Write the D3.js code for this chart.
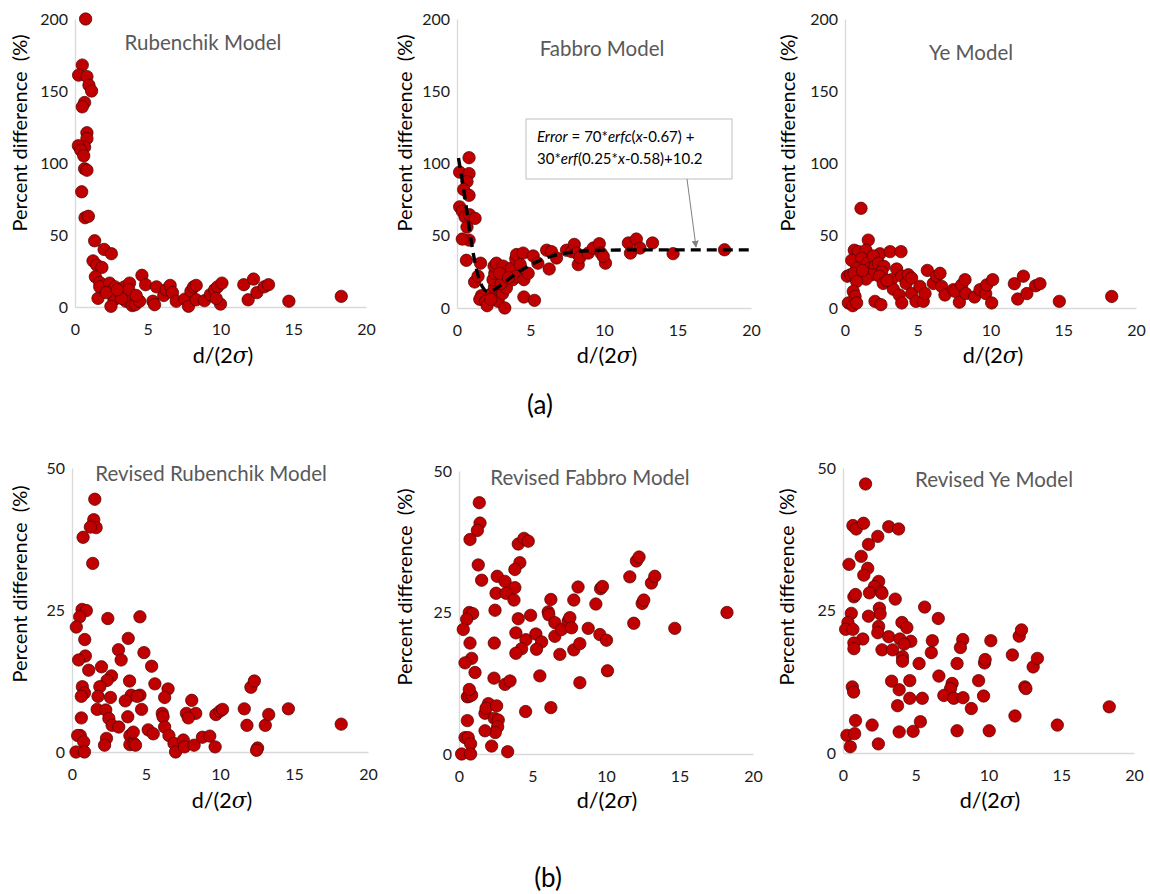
<!DOCTYPE html>
<html>
<head>
<meta charset="utf-8">
<script src="https://cdn.jsdelivr.net/npm/d3@7"></script>
<style>
  html, body { margin: 0; padding: 0; background: #fff; }
  svg { display: block; }
  text { font-family: Lato, "Open Sans", "DejaVu Sans", sans-serif; }
</style>
</head>
<body>
<svg id="chart" width="1150" height="894"></svg>
<script>
// ---------------- DATA ----------------
const xTicks = [0, 5, 10, 15, 20];
const yTicksTop = [0, 50, 100, 150, 200];
const yTicksBottom = [0, 25, 50];

const titles = ["Rubenchik Model", "Fabbro Model", "Ye Model",
                "Revised Rubenchik Model", "Revised Fabbro Model", "Revised Ye Model"];

const rubenchik = [
  [0.73,200],[0.5,168],[0.25,161],[0.82,160],[0.96,154],[1.14,150],[0.66,142],[0.5,139],
  [0.82,121],[0.82,117],[0.66,111],[0.23,112],[0.39,109],[0.6,105],[0.66,96],[0.82,95],
  [0.46,80],[0.69,62],[0.92,63],[1.35,46],[2.0,40],[2.5,37],[1.24,32],[1.5,29],[1.85,27.5],
  [1.4,21],[1.7,17],[1.58,6],[1.7,14],[2.38,16.6],[2.6,10],[2.68,5],[2.47,0.5],[2.75,14],
  [2.15,10],[3.07,10],[3.4,14],[3.75,16.6],[3.7,12],[3.5,4],[3.94,1],[4.14,1.6],[4.44,4],
  [4.6,22],[4.85,15.5],[5.35,4],[5.47,1.6],[5.6,14],[6.1,8],[6.27,12],[6.54,15],[6.7,10],
  [6.96,4],[7.55,5.5],[7.8,0.5],[7.97,11],[8.15,14],[8.33,15],[8.33,5],[8.9,4.4],[9.3,8.6],
  [9.6,12],[9.8,14],[10.1,16.6],[10.0,2],[9.7,6],[11.6,15.5],[11.9,5],[12.27,19.4],[12.5,10],
  [13.0,14],[13.3,15.5],[14.7,4],[18.3,7.4],[3.2,6],[2.9,12],[4.2,8]
];

const fabbro = [
  [0.82,104],[0.18,94],[0.82,93],[0.68,87.5],[0.45,82],[0.82,78],[0.18,70],[0.36,67],
  [0.55,63],[0.86,64.5],[1.23,62],[0.68,56],[0.82,47],[0.36,47.7],[0.64,33],[1.6,31],
  [1.2,18],[1.43,22],[1.66,8.5],[1.55,6],[1.95,4.6],[2.05,1.6],[2.36,10],[2.55,14.5],
  [2.45,19.6],[2.57,24],[2.52,29],[2.68,31],[2.8,4.6],[2.3,6],[3.25,0],[3.1,10],[3.36,14],
  [3.14,29],[3.7,27.6],[3.8,19.6],[4.05,22],[4.0,34],[4.05,37],[4.5,38],[4.55,19.6],
  [4.84,24],[4.55,7.6],[5.27,5.3],[5.18,36],[5.5,31],[6.1,40],[6.27,27],[6.43,39],[6.77,34.6],
  [7.45,40],[7.8,39],[7.98,44],[8.14,38],[8.25,30],[8.36,35],[8.93,38],[9.27,41.5],[9.68,44.5],
  [9.8,38],[10.1,31],[9.95,35.7],[11.66,45],[11.8,38],[12.2,47.7],[12.45,41.5],[13.3,45],
  [14.7,37.6],[18.2,40.3],[3.0,17],[2.9,24],[3.5,21],[4.3,30]
];
const fitX = [0.1, 0.5, 0.75, 1, 1.25, 1.5, 1.75, 2, 2.25, 2.5, 3, 4, 5, 6, 7, 8, 10, 12, 15, 20];
const fitY = [103.8, 79.1, 61.3, 44.3, 30.2, 20.2, 14.3, 11.7, 11.4, 12.4, 16.0, 23.6, 29.9, 34.4, 37.3, 38.9, 40.0, 40.2, 40.2, 40.2];

const ye = [
  [1.1,69],[1.6,47],[0.64,40],[0.92,39],[1.44,40],[2.4,37.5],[3.1,39],[3.85,39],[0.46,33],
  [1.15,34.5],[1.53,31],[1.95,36],[0.8,27.6],[1.72,27.6],[2.06,28.8],[2.3,31],[2.68,28.8],
  [2.52,25],[1.83,23],[1.44,20],[0.16,22],[0.39,23],[0.62,24],[0.8,18.4],[0.57,11.5],[0.69,8],
  [0.23,3.5],[0.53,1.6],[0.8,3.5],[2.06,4.6],[2.47,2.3],[2.36,22],[2.63,17],[3.2,19.6],
  [3.55,27],[3.32,13],[3.73,9],[3.9,3.5],[3.9,22],[4.2,17],[4.35,23],[4.58,20.7],[4.58,10],
  [4.88,4.6],[5.15,15],[5.38,4.6],[5.5,10],[5.66,26],[6.07,17],[6.3,22],[6.53,24],[6.64,15],
  [6.87,9],[7.45,12.7],[7.56,11.5],[7.86,4],[8.02,16],[8.25,19.6],[8.3,10],[8.9,7.6],
  [9.28,12.7],[9.67,10],[9.74,16],[10.15,19.6],[10.08,3.5],[11.64,16.8],[11.87,6.2],
  [12.26,22],[12.5,10],[13.1,15.4],[13.4,16.8],[14.73,4.6],[18.33,8],[1.2,26],[2.9,19]
];

const revRubenchik = [
  [1.54,44.5],[1.47,40.9],[1.63,39.5],[1.24,39.6],[0.75,37.8],[1.4,33.2],[0.68,25.1],[0.97,24.9],
  [0.52,23.8],[0.29,22],[2.42,23.5],[4.59,23.8],[0.86,19.8],[3.8,20],[3.14,18],[4.86,17.5],
  [0.9,16.9],[0.45,16.2],[3.32,16.2],[5.38,15.1],[1.13,14.4],[1.99,15],[2.67,13.4],[2.37,12.6],
  [3.89,12.5],[5.6,12],[1.88,11.5],[0.7,11.5],[6.49,11.1],[0.84,10.4],[0.63,9.8],[1.76,9.8],
  [2.6,9.6],[4.0,10],[4.59,10],[4.4,9.8],[6.26,9.6],[8.09,9.1],[3.6,9],[1.7,7.5],[2.28,7.4],
  [4.7,7.5],[2.49,5.9],[3.77,6.2],[0.63,6],[6.1,6.8],[6.15,6.2],[7.73,6.8],[8.36,6.8],[7.86,6],
  [9.72,6.6],[10.0,7.2],[10.17,7.5],[11.64,7.6],[11.82,4.7],[12.09,11.4],[12.32,12.5],[13.06,4.7],
  [13.29,6.6],[14.62,7.6],[18.19,4.9],[2.71,4.7],[3.16,4.4],[5.15,3.9],[5.49,3.2],[6.26,4.4],
  [6.55,2.9],[6.89,1.5],[7.0,0],[7.52,2.1],[7.6,0.9],[8.25,1.2],[8.81,2.6],[9.31,2.8],[9.67,0.9],
  [12.54,0.7],[12.47,0.3],[0.56,2.9],[0.38,2.9],[0.79,1.8],[0.27,0],[0.84,0],[2.33,2.4],[2.2,1.2],
  [3.91,2.9],[3.91,1.3],[4.18,1.5],[4.29,1.2],[4.14,3.5]
];

const revFabbro = [
  [1.38,44.4],[1.43,40.8],[1.25,39.5],[0.75,37.9],[1.31,33.4],[1.54,30.7],[4.03,37.1],[4.42,38.1],
  [4.71,37.6],[4.14,33.8],[3.8,32.6],[2.6,31.4],[3.13,30.5],[3.8,29.4],[2.52,28.4],[3.2,28.4],
  [3.74,27.2],[2.45,25.4],[4.87,24.5],[0.7,25],[0.93,24.8],[0.52,23.8],[0.29,22],[4.03,23.9],
  [3.87,21.4],[2.4,19.6],[0.75,19.6],[4.55,20.2],[5.23,21.2],[5.62,19.8],[5.27,18.5],[4.26,18.6],
  [3.87,17.8],[0.86,16.9],[0.41,16.1],[1.09,14.4],[2.38,13.4],[3.13,12.3],[3.47,12.9],[5.5,13.8],
  [6.25,27.3],[6.07,25.1],[6.11,24.6],[6.52,23.2],[6.52,20.8],[6.86,17.6],[6.98,22],[7.43,23.5],
  [7.54,24.1],[7.66,22.3],[7.81,27.2],[8.1,29.5],[7.81,18.4],[8.22,19.5],[8.22,12.6],[8.79,22.2],
  [9.31,26.5],[9.63,29.2],[9.76,29.6],[9.58,21.1],[10.03,20.1],[10.1,14.7],[11.62,31.3],[12.07,34.1],
  [12.25,34.8],[11.89,23.1],[12.46,26.6],[12.57,27.2],[13.09,30.2],[13.32,31.4],[14.68,22.2],
  [18.23,25],[6.25,8.2],[4.53,7.5],[0.57,10.1],[0.7,10.2],[0.86,10.4],[0.7,11.4],[0.57,5.9],
  [0.41,2.9],[0.63,2.9],[0.79,1.8],[0.18,0],[0.79,0],[1.77,7.2],[2.0,8.9],[1.84,8.1],[2.56,8.5],
  [2.4,6.3],[2.67,6],[2.63,4.8],[2.47,3.8],[1.77,4.1],[2.22,1.4],[3.31,0.4]
];

const revYe = [
  [1.55,47.2],[0.68,39.9],[0.91,39.3],[1.41,40.3],[3.14,39.7],[3.82,39.3],[2.39,38],[1.75,36.6],
  [1.25,34.5],[0.41,33.1],[1.7,32.4],[1.43,31.2],[2.45,30.1],[2.16,29.2],[1.82,28.1],[2.61,28.3],
  [2.68,28],[0.75,27.4],[0.86,27.8],[3.59,27],[5.61,25.6],[6.55,23.6],[2.5,25.4],[2.55,24.4],
  [0.57,24.5],[1.75,24],[0.34,22.9],[0.18,21.7],[0.68,21.7],[2.45,22.2],[2.39,21.1],[4.05,22.9],
  [4.39,22],[1.36,20],[3.14,20.4],[3.91,20],[4.66,19.6],[4.2,19.1],[0.75,19.3],[0.75,18.3],
  [2.68,18.1],[3.41,18.1],[4.09,16.9],[4.09,16.1],[5.23,15.7],[6.07,17.6],[6.14,19.7],[8.23,19.9],
  [8.07,18.5],[10.16,19.7],[7.84,15.7],[6.59,13.5],[7.5,12.2],[7.39,11.3],[6.93,10.1],[7.61,9.6],
  [8.25,9.7],[9.32,12.7],[9.66,10],[9.73,15.8],[9.77,16.4],[8.82,7.8],[11.64,17.2],[12.11,20.5],
  [12.27,21.6],[13.07,15.1],[13.36,16.6],[11.82,6.5],[12.5,11.6],[12.57,11.3],[14.73,4.9],[18.3,8.1],
  [3.34,12.6],[3.86,11.1],[4.59,12.7],[4.59,9.6],[5.45,9.6],[3.75,8.3],[5.32,5.5],[4.82,3.8],
  [3.86,3.7],[7.84,3.9],[10.05,3.9],[0.64,11.6],[0.73,10.7],[0.86,5.7],[2.0,4.9],[0.27,3.1],
  [0.8,3.4],[0.5,1.1],[2.43,1.6]
];

// ---------------- LAYOUT ----------------
const panels = [
  {data: rubenchik,    title: titles[0], xr:[75,366],  yr:[307,19],  ymax:200, yt:yTicksTop,    tx:203, ty:50,  lx:20,  ly:133, xl:223, xly:363},
  {data: fabbro,       title: titles[1], xr:[457,751], yr:[308,19],  ymax:200, yt:yTicksTop,    tx:602, ty:56,  lx:405, ly:133, xl:607, xly:363},
  {data: ye,           title: titles[2], xr:[845,1136],yr:[308,19],  ymax:200, yt:yTicksTop,    tx:971, ty:60,  lx:788, ly:133, xl:993, xly:363},
  {data: revRubenchik, title: titles[3], xr:[72,368],  yr:[752,468], ymax:50,  yt:yTicksBottom, tx:211, ty:481, lx:20,  ly:584, xl:222, xly:808},
  {data: revFabbro,    title: titles[4], xr:[459,753], yr:[754,471], ymax:50,  yt:yTicksBottom, tx:590, ty:485, lx:405, ly:587, xl:607, xly:808},
  {data: revYe,        title: titles[5], xr:[843,1134],yr:[753,468], ymax:50,  yt:yTicksBottom, tx:994, ty:487, lx:787, ly:587, xl:990, xly:808}
];

const svg = d3.select("#chart");
const axisGray = "#d9d9d9";
const dotFill = "#c00000";
const dotStroke = "#4a0000";

panels.forEach((p, i) => {
  const x = d3.scaleLinear().domain([0, 20]).range(p.xr);
  const y = d3.scaleLinear().domain([0, p.ymax]).range(p.yr);
  const g = svg.append("g");

  // x axis
  const gx = g.append("g").attr("transform", `translate(0,${p.yr[0]})`)
    .call(d3.axisBottom(x).tickValues(xTicks).tickSize(0).tickPadding(17).tickSizeOuter(0));
  gx.select(".domain").attr("stroke", axisGray).attr("stroke-width", 1.3);
  gx.selectAll("text").attr("font-size", 16).attr("fill", "#1a1a1a")
    .attr("font-family", "Lato, 'Open Sans', sans-serif");

  // y axis
  const gy = g.append("g").attr("transform", `translate(${p.xr[0]},0)`)
    .call(d3.axisLeft(y).tickValues(p.yt).tickSize(0).tickPadding(7).tickSizeOuter(0));
  gy.select(".domain").attr("stroke", axisGray).attr("stroke-width", 1.3);
  gy.selectAll("text").attr("font-size", 16).attr("fill", "#1a1a1a")
    .attr("font-family", "Lato, 'Open Sans', sans-serif");

  // title
  g.append("text").attr("x", p.tx).attr("y", p.ty).attr("text-anchor", "middle")
    .attr("font-size", 20.5).attr("fill", "#595959").text(p.title);

  // y label
  g.append("text")
    .attr("transform", `translate(${p.lx + 7},${p.ly}) rotate(-90)`)
    .attr("text-anchor", "middle").attr("font-size", 20).attr("fill", "#000")
    .style("white-space", "pre").text("Percent difference  (%)");

  // x label
  const xl = g.append("text").attr("x", p.xl).attr("y", p.xly).attr("text-anchor", "middle")
    .attr("font-size", 21.5).attr("fill", "#000");
  xl.append("tspan").text("d/(2");
  xl.append("tspan").attr("font-style", "italic").attr("font-family", "'DejaVu Serif', serif").text("σ");
  xl.append("tspan").text(")");

  // points
  g.append("g").selectAll("circle").data(p.data).join("circle")
    .attr("cx", d => x(d[0])).attr("cy", d => y(d[1])).attr("r", 6.2)
    .attr("fill", dotFill).attr("stroke", dotStroke).attr("stroke-width", 0.7);

  if (i === 1) {
    // fitted curve
    const line = d3.line().x(d => x(d[0])).y(d => y(d[1])).curve(d3.curveMonotoneX);
    g.append("path").datum(fitX.map((v, k) => [v, fitY[k]]))
      .attr("d", line).attr("fill", "none").attr("stroke", "#000")
      .attr("stroke-width", 3.4).attr("stroke-dasharray", "10,6");

    // annotation box
    g.append("rect").attr("x", 526).attr("y", 119).attr("width", 206).attr("height", 60)
      .attr("fill", "#fff").attr("stroke", "#bfbfbf").attr("stroke-width", 1);
    const t1 = g.append("text").attr("x", 537).attr("y", 142).attr("font-size", 15).attr("fill", "#000");
    t1.append("tspan").attr("font-style", "italic").text("Error");
    t1.append("tspan").text(" = 70*");
    t1.append("tspan").attr("font-style", "italic").text("erfc");
    t1.append("tspan").text("(");
    t1.append("tspan").attr("font-style", "italic").text("x");
    t1.append("tspan").text("-0.67) +");
    const t2 = g.append("text").attr("x", 537).attr("y", 164).attr("font-size", 15).attr("fill", "#000");
    t2.append("tspan").text("30*");
    t2.append("tspan").attr("font-style", "italic").text("erf");
    t2.append("tspan").text("(0.25*");
    t2.append("tspan").attr("font-style", "italic").text("x");
    t2.append("tspan").text("-0.58)+10.2");

    // arrow
    svg.append("defs").append("marker").attr("id", "arr").attr("viewBox", "0 0 10 10")
      .attr("refX", 9).attr("refY", 5).attr("markerWidth", 7).attr("markerHeight", 7)
      .attr("orient", "auto").append("path").attr("d", "M0,0 L10,5 L0,10 z").attr("fill", "#808080");
    g.append("line").attr("x1", 687).attr("y1", 179).attr("x2", 696).attr("y2", 247)
      .attr("stroke", "#808080").attr("stroke-width", 1).attr("marker-end", "url(#arr)");
  }
});

// panel group labels
svg.append("text").attr("x", 540).attr("y", 414).attr("text-anchor", "middle")
  .attr("font-size", 26).attr("fill", "#000").text("(a)");
svg.append("text").attr("x", 548).attr("y", 887).attr("text-anchor", "middle")
  .attr("font-size", 26).attr("fill", "#000").text("(b)");
</script>
</body>
</html>
